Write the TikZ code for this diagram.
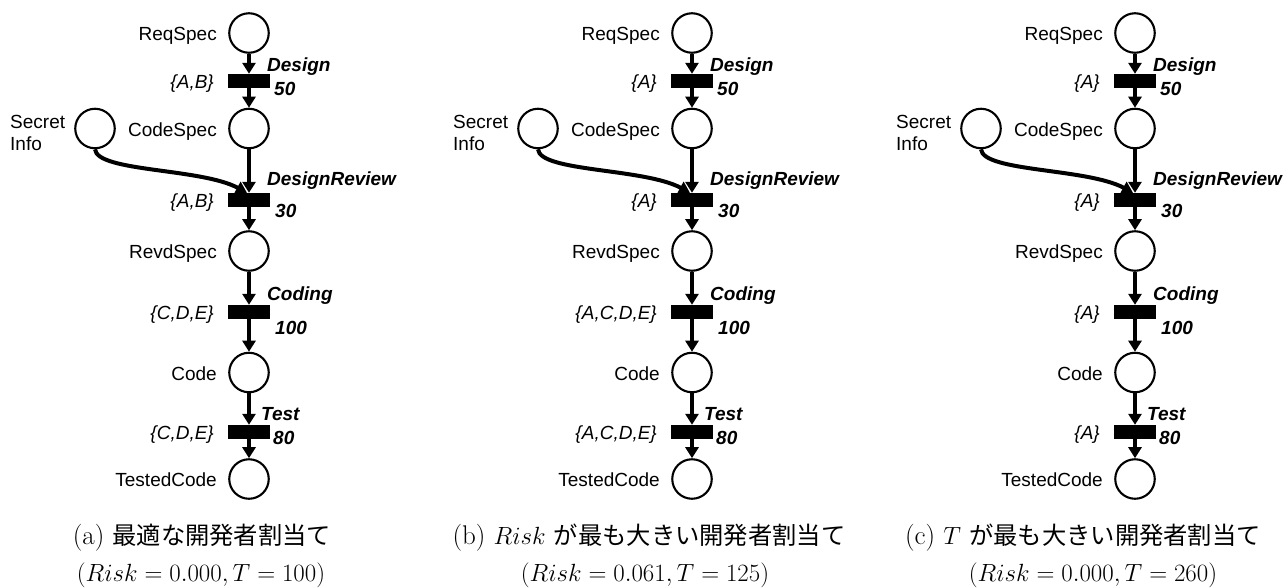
\documentclass[tikz,border=0pt]{standalone}
\usepackage{fontspec}
\newfontfamily\labfont{Liberation Sans}
\newfontfamily\cjkfont[Scale=0.9]{Noto Sans CJK JP}
\usetikzlibrary{arrows.meta}
\tikzset{
  place/.style={circle,draw,line width=2.1pt,minimum size=39.5pt,inner sep=0pt},
  trans/.style={rectangle,fill=black,minimum width=42pt,minimum height=14pt,inner sep=0pt},
  plabel/.style={font=\labfont\fontsize{19}{22}\selectfont,inner sep=0pt,anchor=base east},
  rlabel/.style={font=\labfont\itshape\fontsize{19}{22}\selectfont,inner sep=0pt,anchor=base east},
  tname/.style={font=\labfont\bfseries\itshape\fontsize{19}{22}\selectfont,inner sep=0pt,anchor=base west},
  arc/.style={line width=4pt,-{Triangle[length=11pt,width=13pt]}},
  captext/.style={font=\fontsize{27}{32}\selectfont,inner sep=0pt,anchor=base},
}
\newcommand\pnpanel[6]{%
\begin{scope}[shift={(#2,0)}]
  \node[place] (#1p1) at (0,33) {};
  \node[trans] (#1t1) at (0,81) {};
  \node[place] (#1p2) at (0,128.5) {};
  \node[place] (#1si) at (-154,128.5) {};
  \node[trans] (#1t2) at (0,200) {};
  \node[place] (#1p3) at (0,251) {};
  \node[trans] (#1t3) at (0,312) {};
  \node[place] (#1p4) at (0,372.5) {};
  \node[trans] (#1t4) at (0,432) {};
  \node[place] (#1p5) at (0,479) {};
  % place labels
  \node[plabel] (#1l1) at (-32,40.5) {ReqSpec};
  \node[plabel] (#1l2) at (-32,136) {CodeSpec};
  \node[plabel] (#1l3) at (-32,258.5) {RevdSpec};
  \node[plabel] (#1l4) at (-32,380) {Code};
  \node[plabel] (#1l5) at (-32,486.5) {TestedCode};
  \node[font=\labfont\fontsize{19}{22}\selectfont,inner sep=0pt,anchor=west,align=left] (#1lsi) at (-239,133) {Secret\\Info};
  % resource labels
  \node[rlabel] (#1r1) at (-35,88) {#3};
  \node[rlabel] (#1r2) at (-35,207) {#4};
  \node[rlabel] (#1r3) at (-35,319) {#5};
  \node[rlabel] (#1r4) at (-35,439) {#6};
  % transition names and durations
  \node[tname] (#1n1) at (18,71) {Design};
  \node[tname] (#1d1) at (25,95) {50};
  \node[tname] (#1n2) at (18,185) {DesignReview};
  \node[tname] (#1d2) at (26,217) {30};
  \node[tname] (#1n3) at (18,300) {Coding};
  \node[tname] (#1d3) at (26,334) {100};
  \node[tname] (#1n4) at (12,420) {Test};
  \node[tname] (#1d4) at (24,444) {80};
  % arcs
  \draw[arc] (#1p1) -- (#1t1.north);
  \draw[arc] (#1t1) -- (#1p2);
  \draw[arc] (#1p2) -- (#1t2.north);
  \draw[arc] (#1si.south) .. controls (-152,172) and (-48,168) .. ([xshift=-2pt]#1t2.north);
  \draw[arc] (#1t2) -- (#1p3);
  \draw[arc] (#1p3) -- (#1t3.north);
  \draw[arc] (#1t3) -- (#1p4);
  \draw[arc] (#1p4) -- (#1t4.north);
  \draw[arc] (#1t4) -- (#1p5);
\end{scope}}
\begin{document}
\begin{tikzpicture}[x=1pt,y=-1pt]
  \useasboundingbox (0,0) rectangle (1283,587);
  \pnpanel{a}{249}{\{A,B\}}{\{A,B\}}{\{C,D,E\}}{\{C,D,E\}}
  \pnpanel{b}{692}{\{A\}}{\{A\}}{\{A,C,D,E\}}{\{A,C,D,E\}}
  \pnpanel{c}{1135}{\{A\}}{\{A\}}{\{A\}}{\{A\}}
  \node[captext] (capa1) at (202,544) {(a) {\cjkfont 最適な開発者割当て}};
  \node[captext] (capa2) at (201,581) {$(Risk=0.000,T=100)$};
  \node[captext] (capb1) at (649,544) {(b) $Risk$ {\cjkfont が最も大きい開発者割当て}};
  \node[captext] (capb2) at (645,581) {$(Risk=0.061,T=125)$};
  \node[captext] (capc1) at (1083,544) {(c) $T$ {\cjkfont が最も大きい開発者割当て}};
  \node[captext] (capc2) at (1093,581) {$(Risk=0.000,T=260)$};
\end{tikzpicture}
\end{document}
